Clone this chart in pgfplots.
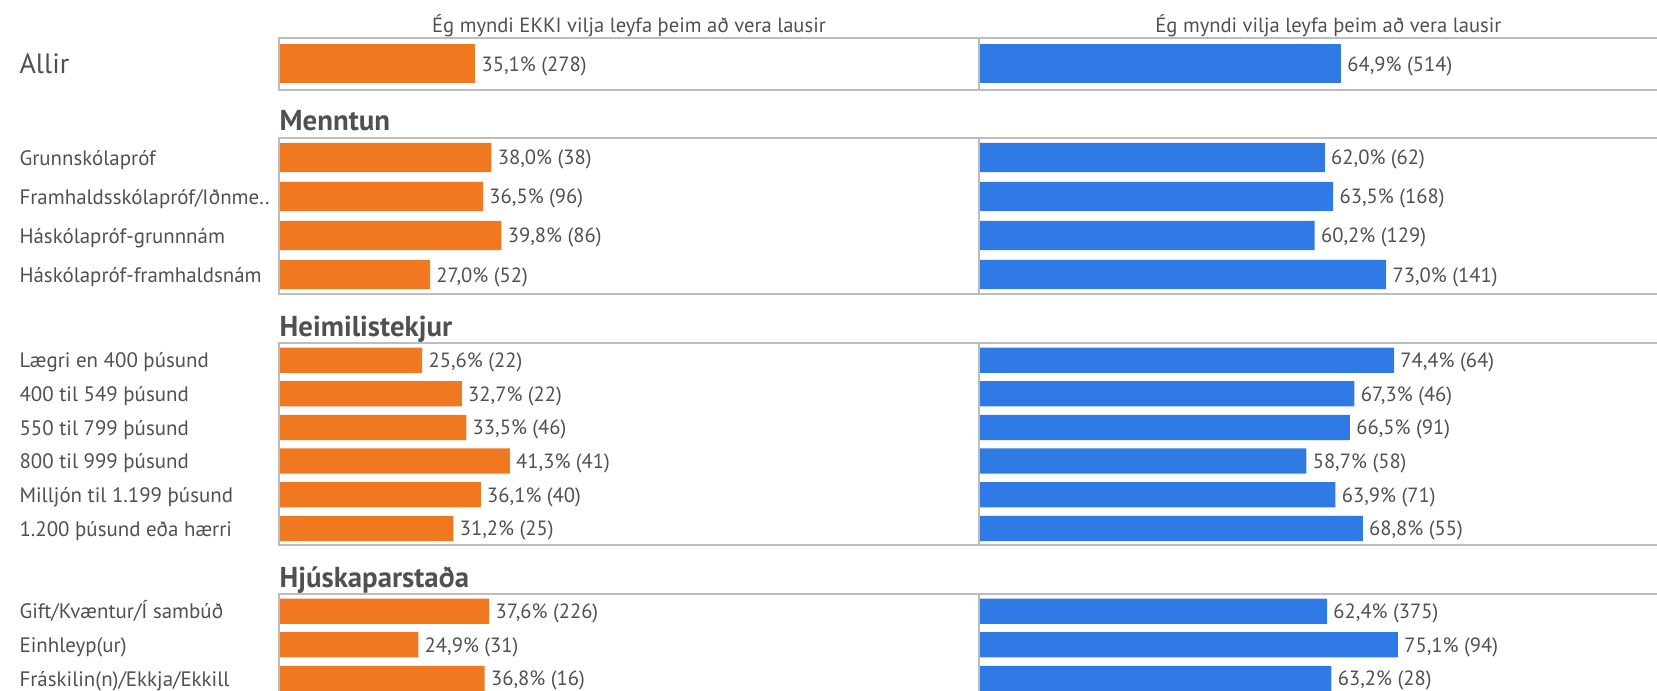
\documentclass[border=0pt]{standalone}
\usepackage{fontspec}
\setmainfont{PT Sans}
\usepackage{pgfplots}
\pgfplotsset{compat=1.18}
\definecolor{myorange}{HTML}{F07821}
\definecolor{myblue}{HTML}{2F7AE5}
\definecolor{linegray}{HTML}{BDBDBD}
\definecolor{txtgray}{HTML}{505050}
\newcommand\lbl{\fontsize{10.3pt}{12pt}\selectfont}
\newcommand\catfont{\fontsize{10.45pt}{12pt}\selectfont}
\newcommand\allirfont{\fontsize{14pt}{16pt}\selectfont}
\newcommand\headfont{\fontsize{14.4pt}{16pt}\selectfont\bfseries}
\pgfplotsset{
  panel/.style={
    scale only axis, width=349.7pt, xmin=0, xmax=125.3, enlargelimits=false,
    xbar, bar width=0.75, bar shift=0pt,
    axis line style={draw=linegray, line width=0.85pt},
    xtick=\empty, ytick=\empty, clip=false, axis on top, anchor=north west,
    point meta=explicit symbolic, nodes near coords,
    every node near coord/.append style={anchor=base west, inner sep=0pt,
      xshift=3pt, yshift=-3.75pt, font=\lbl, text=txtgray},
  },
}
\tikzset{
  catlbl/.style={anchor=base west, inner sep=0pt, yshift=-3.8pt, font=\catfont, text=txtgray},
  heading/.style={anchor=base west, inner sep=0pt, yshift=3.5pt, font=\headfont, text=txtgray},
  coltitle/.style={anchor=base, inner sep=0pt, yshift=2.8pt, font=\lbl, text=txtgray},
}
\begin{document}
\begin{tikzpicture}
\useasboundingbox (0,0) rectangle (828.5pt,345pt);
\clip (0,0) rectangle (828.5pt,345pt);

% ---------- Allir ----------
\begin{axis}[panel, at={(139.65pt,326.15pt)}, height=26pt, ymin=0.5, ymax=1.5]
\addplot[fill=myorange, draw=none] coordinates {(35.1,1) [35,1\% (278)]};
\node[anchor=base west, inner sep=0pt, yshift=-5pt, font=\allirfont, text=txtgray] at (axis cs:-46.6,1) {Allir};
\node[coltitle] at (axis cs:62.65,1.5) {Ég myndi EKKI vilja leyfa þeim að vera lausir};
\end{axis}
\begin{axis}[panel, at={(489.35pt,326.15pt)}, height=26pt, ymin=0.5, ymax=1.5]
\addplot[fill=myblue, draw=none] coordinates {(64.9,1) [64,9\% (514)]};
\node[coltitle] at (axis cs:62.65,1.5) {Ég myndi vilja leyfa þeim að vera lausir};
\end{axis}

% ---------- Menntun ----------
\begin{axis}[panel, at={(139.65pt,276pt)}, height=78pt, ymin=0.5, ymax=4.5]
\addplot[fill=myorange, draw=none] coordinates {
(38.0,4) [38,0\% (38)]
(36.5,3) [36,5\% (96)]
(39.8,2) [39,8\% (86)]
(27.0,1) [27,0\% (52)]
};
\node[heading] at (axis cs:0,4.5) {Menntun};
\node[catlbl] at (axis cs:-46.6,4) {Grunnskólapróf};
\node[catlbl] at (axis cs:-46.6,3) {Framhaldsskólapróf/Iðnme..};
\node[catlbl] at (axis cs:-46.6,2) {Háskólapróf-grunnnám};
\node[catlbl] at (axis cs:-46.6,1) {Háskólapróf-framhaldsnám};
\end{axis}
\begin{axis}[panel, at={(489.35pt,276pt)}, height=78pt, ymin=0.5, ymax=4.5]
\addplot[fill=myblue, draw=none] coordinates {
(62.0,4) [62,0\% (62)]
(63.5,3) [63,5\% (168)]
(60.2,2) [60,2\% (129)]
(73.0,1) [73,0\% (141)]
};
\end{axis}

% ---------- Heimilistekjur ----------
\begin{axis}[panel, at={(139.65pt,173.35pt)}, height=101pt, ymin=0.5, ymax=6.5]
\addplot[fill=myorange, draw=none] coordinates {
(25.6,6) [25,6\% (22)]
(32.7,5) [32,7\% (22)]
(33.5,4) [33,5\% (46)]
(41.3,3) [41,3\% (41)]
(36.1,2) [36,1\% (40)]
(31.2,1) [31,2\% (25)]
};
\node[heading] at (axis cs:0,6.5) {Heimilistekjur};
\node[catlbl] at (axis cs:-46.6,6) {Lægri en 400 þúsund};
\node[catlbl] at (axis cs:-46.6,5) {400 til 549 þúsund};
\node[catlbl] at (axis cs:-46.6,4) {550 til 799 þúsund};
\node[catlbl] at (axis cs:-46.6,3) {800 til 999 þúsund};
\node[catlbl] at (axis cs:-46.6,2) {Milljón til 1.199 þúsund};
\node[catlbl] at (axis cs:-46.6,1) {1.200 þúsund eða hærri};
\end{axis}
\begin{axis}[panel, at={(489.35pt,173.35pt)}, height=101pt, ymin=0.5, ymax=6.5]
\addplot[fill=myblue, draw=none] coordinates {
(74.4,6) [74,4\% (64)]
(67.3,5) [67,3\% (46)]
(66.5,4) [66,5\% (91)]
(58.7,3) [58,7\% (58)]
(63.9,2) [63,9\% (71)]
(68.8,1) [68,8\% (55)]
};
\end{axis}

% ---------- Hjúskaparstaða ----------
\begin{axis}[panel, at={(139.65pt,47.85pt)}, height=50.5pt, ymin=0.5, ymax=3.5]
\addplot[fill=myorange, draw=none] coordinates {
(37.6,3) [37,6\% (226)]
(24.9,2) [24,9\% (31)]
(36.8,1) [36,8\% (16)]
};
\node[heading] at (axis cs:0,3.5) {Hjúskaparstaða};
\node[catlbl] at (axis cs:-46.6,3) {Gift/Kvæntur/Í sambúð};
\node[catlbl] at (axis cs:-46.6,2) {Einhleyp(ur)};
\node[catlbl] at (axis cs:-46.6,1) {Fráskilin(n)/Ekkja/Ekkill};
\end{axis}
\begin{axis}[panel, at={(489.35pt,47.85pt)}, height=50.5pt, ymin=0.5, ymax=3.5]
\addplot[fill=myblue, draw=none] coordinates {
(62.4,3) [62,4\% (375)]
(75.1,2) [75,1\% (94)]
(63.2,1) [63,2\% (28)]
};
\end{axis}
\end{tikzpicture}
\end{document}
